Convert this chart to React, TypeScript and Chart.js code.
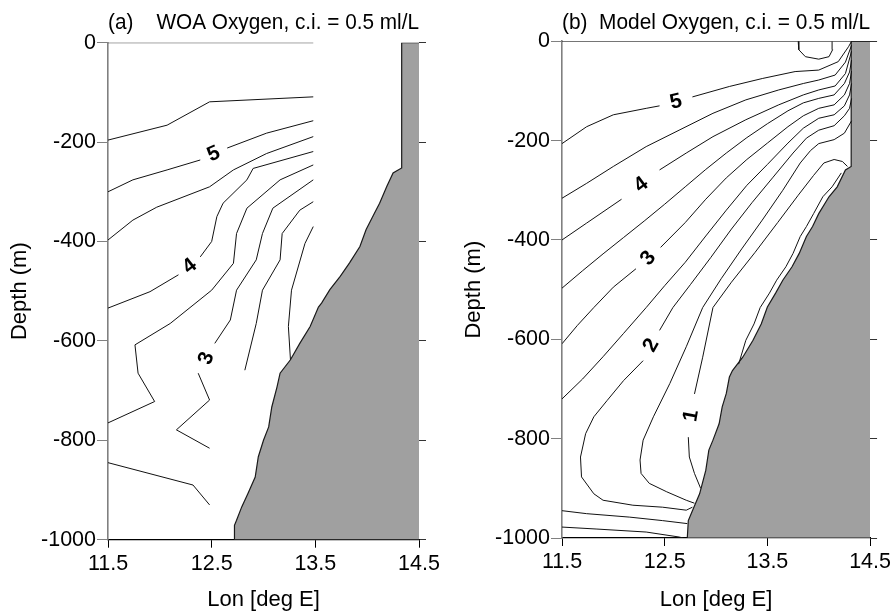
import React, { useEffect, useRef } from "react";
import { Chart, registerables } from "chart.js";
Chart.register(...registerables);

type P = [number, number] | null;

const FONT = "'Liberation Sans', Arial, sans-serif";

// ---- axes ----
const lonTicks = [11.5, 12.5, 13.5, 14.5];
const depthTicks = [0, -200, -400, -600, -800, -1000];

// ---- panel (a): WOA oxygen contours [lon, depth]; null = gap for label ----
const woaTop: P[] = [[11.5, 0], [13.48, 0]];
const woa55: P[] = [[11.5, -196], [12.07, -166], [12.48, -119], [13.48, -109]];
const woa50: P[] = [[11.5, -300], [11.74, -276], [12.07, -256], [12.39, -236], null, [12.65, -212], [13.03, -182], [13.48, -157]];
const woa45: P[] = [[11.5, -397], [11.74, -357], [11.97, -331], [12.48, -290], [12.71, -256], [13.03, -223], [13.48, -189]];
const woa40: P[] = [[11.5, -534], [11.905, -501], [12.18, -467], null, [12.39, -431], [12.5, -400], [12.55, -350], [12.61, -323], [12.84, -276], [12.9, -253], [13.48, -219]];
const woa35: P[] = [[13.48, -246], [13.16, -276], [12.84, -333], [12.74, -384], [12.71, -444], [12.5, -498], [12.1, -565], [11.76, -608], [11.79, -665], [11.95, -722], [11.5, -765]];
const woa30: P[] = [[13.48, -276], [13.09, -333], [12.99, -384], [12.93, -437], [12.74, -498], [12.68, -558], [12.53, -605], null, [12.37, -665], [12.48, -719], [12.16, -779], [12.48, -816]];
const woa25: P[] = [[13.48, -320], [13.35, -337], [13.18, -384], [13.16, -437], [12.99, -498], [12.93, -565], [12.82, -659]];
const woa20: P[] = [[13.48, -370], [13.4, -404], [13.27, -498], [13.24, -571], [13.26, -638]];
const woaDeep: P[] = [[11.5, -845], [12.32, -890], [12.48, -930]];
const woaTopo: P[] = [[14.5, 0], [14.333, 0], [14.333, -252], [14.25, -262], [14.19, -289], [14.12, -323], [14.07, -343], [13.99, -376], [13.93, -410], [13.83, -443], [13.74, -470], [13.64, -497], [13.56, -524], [13.53, -532], [13.45, -571], [13.35, -605], [13.26, -638], [13.16, -665], [13.13, -693], [13.08, -733], [13.05, -773], [13.0, -800], [12.95, -833], [12.92, -874], [12.85, -907], [12.79, -934], [12.74, -961], [12.72, -971], [12.72, -1000], [14.5, -1000]];
const woaLabelText = ["5", "4", "3"];
const woaLabelLon = [12.52, 12.29, 12.45];
const woaLabelDepth = [-224, -450, -635];
const woaLabelAngle = [-24, -38, -70];

// ---- panel (b): model oxygen contours ----
const modTop: P[] = [[11.5, 0], [14.5, 0]];
const mod55: P[] = [[13.8, 0], [13.806, -17], [13.87, -31], [14.0, -36], [14.1, -31], [14.135, -17], [14.13, 0]];
const mod50: P[] = [[11.5, -206], [11.74, -172], [12.0, -148], [12.32, -135], [12.45, -130], null, [12.77, -112], [13.13, -91], [13.45, -75], [13.77, -61], [14.0, -58], [14.19, -41], [14.29, -11], [14.32, 0]];
const mod45: P[] = [[11.5, -316], [11.74, -286], [12.0, -252], [12.32, -212], [12.64, -179], [12.97, -145], [13.29, -118], [13.61, -98], [13.85, -85], [14.0, -78], [14.16, -68], [14.26, -42], [14.32, -8]];
const mod40: P[] = [[11.5, -400], [11.74, -366], [12.08, -318], null, [12.45, -259], [12.71, -225], [12.97, -192], [13.29, -158], [13.61, -128], [13.85, -108], [14.0, -98], [14.16, -90], [14.26, -65], [14.32, -20]];
const mod35: P[] = [[11.5, -497], [11.7, -462], [11.9, -428], [12.1, -395], [12.3, -362], [12.5, -328], [12.7, -293], [12.9, -258], [13.1, -225], [13.3, -194], [13.5, -166], [13.7, -140], [13.85, -124], [14.0, -115], [14.15, -108], [14.25, -85], [14.3, -62], [14.32, -38]];
const mod30: P[] = [[11.5, -609], [11.65, -572], [11.81, -536], [12.0, -495], [12.22, -458], null, [12.46, -415], [12.7, -365], [12.9, -318], [13.1, -275], [13.3, -238], [13.5, -205], [13.7, -172], [13.85, -150], [14.0, -135], [14.15, -128], [14.25, -108], [14.3, -85], [14.32, -60]];
const mod25: P[] = [[11.5, -720], [11.7, -680], [11.9, -635], [12.1, -588], [12.32, -536], [12.5, -492], [12.7, -445], [12.9, -392], [13.1, -340], [13.3, -290], [13.5, -248], [13.7, -205], [13.85, -175], [14.0, -155], [14.15, -148], [14.25, -130], [14.3, -108], [14.32, -85]];
const mod20: P[] = [[12.77, -938], [12.71, -944], [12.48, -938], [12.19, -934], [11.9, -924], [11.81, -911], [11.69, -877], [11.68, -837], [11.73, -790], [11.81, -756], [11.94, -723], [12.1, -683], [12.29, -643], null, [12.45, -582], [12.58, -536], [12.75, -490], [12.95, -435], [13.15, -378], [13.35, -325], [13.55, -275], [13.75, -225], [13.88, -195], [14.0, -179], [14.15, -170], [14.25, -150], [14.3, -135], [14.32, -115]];
const mod15: P[] = [[12.79, -930], [12.71, -924], [12.52, -907], [12.35, -890], [12.27, -870], [12.26, -843], [12.29, -803], [12.39, -756], [12.55, -689], [12.71, -615], [12.87, -536], [13.05, -478], [13.25, -418], [13.45, -360], [13.65, -300], [13.82, -245], [13.92, -220], [14.0, -206], [14.15, -198], [14.25, -185], [14.32, -160]];
const mod10: P[] = [[12.85, -900], [12.79, -870], [12.74, -837], [12.73, -797], null, [12.79, -710], [12.87, -636], [12.97, -536], [13.15, -485], [13.38, -425], [13.6, -365], [13.8, -310], [13.95, -270], [14.05, -245], [14.15, -238], [14.23, -242], [14.28, -252]];
const modSlope: P[] = [[14.22, -265], [14.13, -293], [14.04, -313], [13.95, -347], [13.88, -373], [13.82, -393], [13.75, -427], [13.68, -454], [13.59, -481], [13.52, -507], [13.43, -536], [13.37, -569], [13.29, -602], [13.22, -650]];
const modDeep1: P[] = [[11.5, -945], [11.74, -951], [12.16, -958], [12.48, -965], [12.72, -971]];
const modDeep2: P[] = [[11.5, -978], [11.84, -982], [12.32, -988], [12.64, -998], [12.68, -1000]];
const modTopo: P[] = [[14.5, 0], [14.316, 0], [14.316, -252], [14.26, -259], [14.18, -293], [14.1, -313], [14.0, -347], [13.94, -373], [13.88, -393], [13.81, -427], [13.74, -454], [13.65, -481], [13.58, -507], [13.5, -535], [13.44, -569], [13.36, -602], [13.26, -636], [13.16, -663], [13.13, -676], [13.1, -709], [13.06, -736], [13.03, -770], [12.97, -803], [12.93, -823], [12.9, -864], [12.84, -911], [12.77, -945], [12.73, -965], [12.72, -1000], [14.5, -1000]];
const modLabelText = ["5", "4", "3", "2", "1"];
const modLabelLon = [12.61, 12.27, 12.34, 12.37, 12.76];
const modLabelDepth = [-122, -289, -437, -612, -754];
const modLabelAngle = [-14, -37, -50, -61, -80];

function pts(arr: P[]) {
  return arr.map((p) => (p ? { x: p[0], y: p[1] } : { x: NaN, y: NaN }));
}

function labelPlugin(text: string[], lon: number[], depth: number[], angle: number[]) {
  return {
    id: "contourLabels",
    afterDatasetsDraw(chart: any) {
      const { ctx } = chart;
      const xs = chart.scales.x;
      const ys = chart.scales.y;
      ctx.save();
      ctx.font = `bold 21px ${FONT}`;
      ctx.fillStyle = "#000";
      ctx.textAlign = "center";
      ctx.textBaseline = "middle";
      text.forEach((t, i) => {
        ctx.save();
        ctx.translate(xs.getPixelForValue(lon[i]), ys.getPixelForValue(depth[i]));
        ctx.rotate((angle[i] * Math.PI) / 180);
        ctx.fillText(t, 0, 0);
        ctx.restore();
      });
      ctx.restore();
    },
  };
}

interface PanelCfg {
  title: string;
  lines: P[][];
  topo: P[];
  labels: any;
  leftW: number;
  rightPad: number;
  xH: number;
  titlePadTop: number;
  titlePadBottom: number;
  yTitlePad: number;
}

function makeConfig(p: PanelCfg): any {
  const lineSets = p.lines.map((l) => ({
    data: pts(l),
    borderColor: "#111",
    borderWidth: 1,
    pointRadius: 0,
    fill: false,
    spanGaps: false,
  }));
  return {
    type: "line",
    data: {
      datasets: [
        ...lineSets,
        {
          data: pts(p.topo),
          borderColor: "#1a1a1a",
          borderWidth: 1.2,
          backgroundColor: "#a0a0a0",
          fill: "shape",
          pointRadius: 0,
        },
      ],
    },
    options: {
      responsive: false,
      animation: false,
      events: [],
      layout: { padding: { top: 0, right: p.rightPad, left: 0, bottom: 0 } },
      plugins: {
        legend: { display: false },
        tooltip: { enabled: false },
        title: {
          display: true,
          text: p.title,
          fullSize: false,
          color: "#000",
          font: { family: FONT, size: 22.5, weight: "normal", lineHeight: 1.15 },
          padding: { top: p.titlePadTop, bottom: p.titlePadBottom },
        },
      },
      scales: {
        x: {
          type: "linear",
          min: 11.5,
          max: 14.5,
          afterBuildTicks: (s: any) => {
            s.ticks = lonTicks.map((v) => ({ value: v }));
          },
          afterFit: (s: any) => {
            s.height = p.xH;
          },
          ticks: {
            color: "#000",
            font: { family: FONT, size: 21.5 },
            padding: 3,
            maxRotation: 0,
            autoSkip: false,
            callback: (v: any) => String(v),
          },
          grid: { drawOnChartArea: false, tickLength: 8, color: "#000" },
          border: { color: "#000", width: 1.2 },
          title: {
            display: true,
            text: "Lon [deg E]",
            color: "#000",
            font: { family: FONT, size: 22 },
            padding: { top: 0, bottom: 1 },
          },
        },
        y: {
          type: "linear",
          position: "left",
          min: -1000,
          max: 0,
          afterBuildTicks: (s: any) => {
            s.ticks = depthTicks.map((v) => ({ value: v }));
          },
          afterFit: (s: any) => {
            s.width = p.leftW;
          },
          ticks: {
            color: "#000",
            font: { family: FONT, size: 21.5 },
            padding: 1,
            autoSkip: false,
            callback: (v: any) => String(v),
          },
          grid: { drawOnChartArea: false, tickLength: 11, color: "#808080" },
          border: { color: "#808080", width: 1.6 },
          title: {
            display: true,
            text: "Depth (m)",
            color: "#000",
            font: { family: FONT, size: 22 },
            padding: { top: p.yTitlePad, bottom: 0 },
          },
        },
        y2: {
          type: "linear",
          position: "right",
          min: -1000,
          max: 0,
          afterBuildTicks: (s: any) => {
            s.ticks = depthTicks.map((v) => ({ value: v }));
          },
          afterFit: (s: any) => {
            s.width = 7;
          },
          ticks: { display: false },
          grid: { drawOnChartArea: false, tickLength: 7, color: "#333" },
          border: { display: false },
        },
      },
    },
    plugins: [p.labels],
  };
}

function Panel({ cfg, left }: { cfg: PanelCfg; left: number }) {
  const ref = useRef<HTMLCanvasElement | null>(null);
  useEffect(() => {
    if (!ref.current) return;
    const chart = new Chart(ref.current, makeConfig(cfg));
    return () => chart.destroy();
  }, []);
  return (
    <canvas
      ref={ref}
      width={447}
      height={614}
      style={{ position: "absolute", left, top: 0, width: 447, height: 614, display: "block" }}
    />
  );
}

const panelA: PanelCfg = {
  title: "(a)    WOA Oxygen, c.i. = 0.5 ml/L",
  lines: [woaTop, woa55, woa50, woa45, woa40, woa35, woa30, woa25, woa20, woaDeep],
  topo: woaTopo,
  labels: labelPlugin(woaLabelText, woaLabelLon, woaLabelDepth, woaLabelAngle),
  leftW: 108,
  rightPad: 21,
  xH: 74.3,
  titlePadTop: 9.6,
  titlePadBottom: 7.2,
  yTitlePad: 7,
};

const panelB: PanelCfg = {
  title: "(b)  Model Oxygen, c.i. = 0.5 ml/L",
  lines: [modTop, mod55, mod50, mod45, mod40, mod35, mod30, mod25, mod20, mod15, mod10, modSlope, modDeep1, modDeep2],
  topo: modTopo,
  labels: labelPlugin(modLabelText, modLabelLon, modLabelDepth, modLabelAngle),
  leftW: 115,
  rightPad: 15,
  xH: 76,
  titlePadTop: 9.6,
  titlePadBottom: 5.8,
  yTitlePad: 14,
};

export default function App() {
  return (
    <div style={{ position: "absolute", left: 0, top: 0, width: 894, height: 614, background: "#fff" }}>
      <Panel cfg={panelA} left={0} />
      <Panel cfg={panelB} left={447} />
    </div>
  );
}
